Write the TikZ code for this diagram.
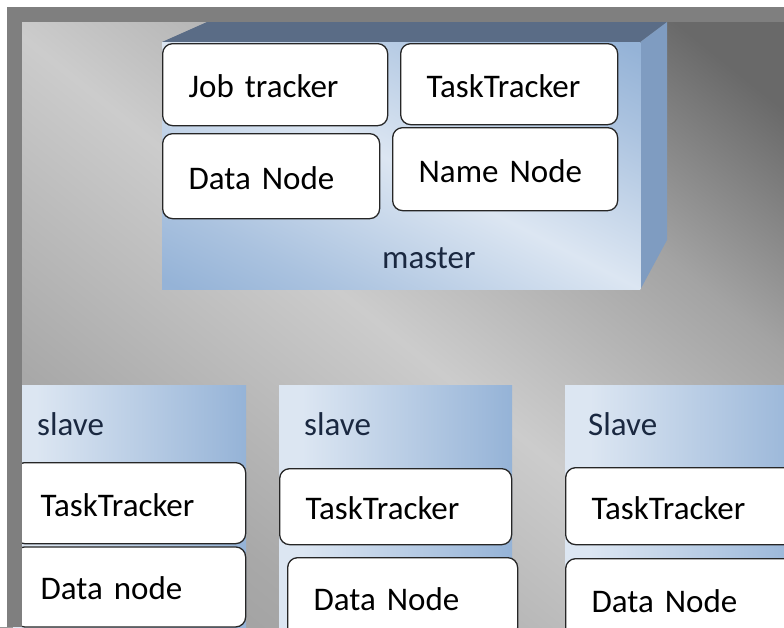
\documentclass[tikz,border=0pt]{standalone}
\usepackage{fontspec}
\setmainfont{Carlito}
\usetikzlibrary{positioning}

% palette
\definecolor{lite}{HTML}{DCE6F2}
\definecolor{steel}{HTML}{95B3D7}
\colorlet{steelmix}{steel!70!lite}
\definecolor{topface}{HTML}{5A6C86}
\definecolor{sideface}{HTML}{7F9CC1}
\definecolor{frame}{HTML}{7F7F7F}
\definecolor{ink}{HTML}{1A2840}
\definecolor{bgedge}{gray}{0.55}
\definecolor{bglow}{gray}{0.60}
\definecolor{bgleft}{gray}{0.66}
\definecolor{bgmid}{gray}{0.64}
\definecolor{bglight}{gray}{0.80}
\definecolor{bgdim}{gray}{0.52}
\definecolor{bgdark}{gray}{0.41}

% shadings
\pgfdeclarehorizontalshading{backdrop}{1400bp}{color(0bp)=(bgedge); color(150bp)=(bglow); color(340bp)=(bgleft); color(600bp)=(bglight); color(830bp)=(bgmid); color(930bp)=(bgdim); color(1020bp)=(bgdark); color(1200bp)=(bgdark)}
\pgfdeclarehorizontalshading{facefill}{600bp}{color(0bp)=(steel); color(40bp)=(steel); color(110bp)=(steelmix); color(250bp)=(lite); color(390bp)=(steelmix); color(460bp)=(steel); color(500bp)=(steel)}
\pgfdeclarehorizontalshading{slavefill}{100bp}{color(0bp)=(lite); color(30bp)=(lite); color(75bp)=(steel); color(100bp)=(steel)}

\begin{document}
\begin{tikzpicture}[
    x=1pt, y=-1pt,
    font=\fontsize{33}{40}\selectfont,
    unit/.style 2 args={draw=black!85, line width=1.3pt, fill=white, rounded corners=10pt, anchor=north west, inner xsep=26pt, inner ysep=0pt, align=left, text height=26pt, text depth=0pt, text width=#1, minimum height=#2},
    panel/.style={shade, shading=slavefill, anchor=north west, inner sep=0pt, minimum width=233pt, minimum height=255pt},
    tag/.style={anchor=base west, inner sep=0pt, text=ink}
]
\useasboundingbox (0,0) rectangle (784,627);
\clip (0,0) rectangle (784,627);

% Background
\node[rotate=51.2, inner sep=0pt] (backdrop) at (400,340) {\pgfuseshading{backdrop}};

% Master box
\node[anchor=north west, inner sep=0pt, minimum width=478pt, minimum height=247pt] (master) at (162,42) {};
\coordinate (backleft) at (207,22);
\coordinate (backright) at (667,22);
\coordinate (backfoot) at (667,240);
\fill[topface] (master.north west) -- (backleft) -- (backright) -- (master.north east) -- cycle;
\fill[sideface] (master.north east) -- (backright) -- (backfoot) -- (master.south east) -- cycle;
\begin{scope}
  \clip (master.north west) rectangle (master.south east);
  \node[rotate=62.7, inner sep=0pt] (masterfill) at (master.center) {\pgfuseshading{facefill}};
\end{scope}

\node[unit={173pt}{82pt}] (jobtr) at (162,43) {Job tracker};
\node[unit={165pt}{81pt}] (mtask) at (400,43) {TaskTracker};
\node[unit={165pt}{85pt}] (mdata) at (162,133) {Data Node};
\node[unit={173pt}{83pt}] (mname) at (392,127) {Name Node};
\node[tag] (mtag) at (382,268) {master};

% Slaves
\node[panel] (slave1) at (13,385) {};
\node[tag] (s1tag) at (37,435) {slave};
\node[unit={179pt}{81pt}] (s1task) at (14,462) {TaskTracker};
\node[unit={179pt}{80pt}, below=2pt of s1task] (s1data) {Data node};

\node[panel] (slave2) at (279,385) {};
\node[tag] (s2tag) at (304,435) {slave};
\node[unit={180pt}{76pt}] (s2task) at (279,468) {TaskTracker};
\node[unit={178pt}{80pt}] (s2data) at (287,557) {Data Node};

\node[panel, minimum width=245pt] (slave3) at (565,385) {};
\node[tag] (s3tag) at (588,435) {Slave};
\node[unit={193pt}{77pt}] (s3task) at (565,467) {TaskTracker};
\node[unit={193pt}{82pt}] (s3data) at (565,558) {Data Node};

% Frame
\fill[white] (0,0) rectangle (784,7);
\fill[white] (0,0) rectangle (7,627);
\fill[frame] (7,7) rectangle (784,22);
\fill[frame] (7,7) rectangle (22,627);

\end{tikzpicture}
\end{document}
